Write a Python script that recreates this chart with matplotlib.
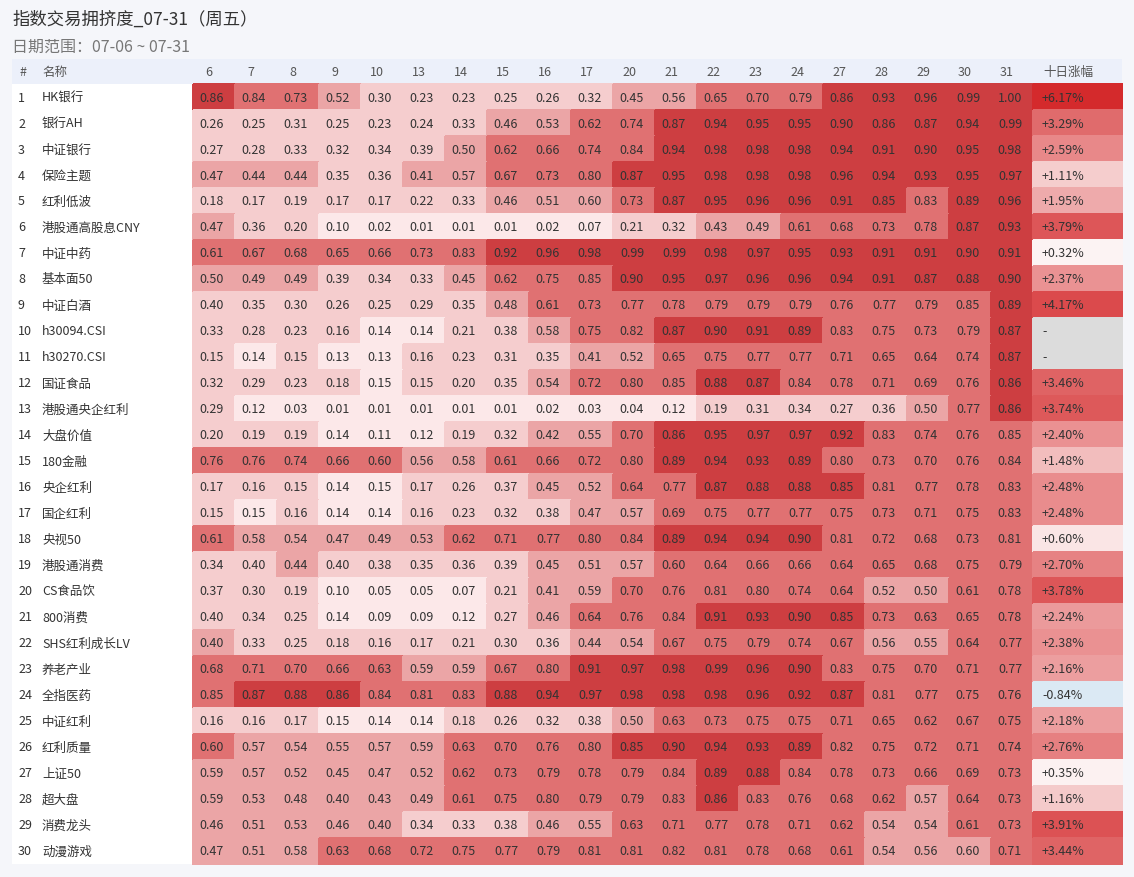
import numpy as np
import matplotlib
matplotlib.use('Agg')
import matplotlib.pyplot as plt
from matplotlib.colors import ListedColormap, BoundaryNorm, LinearSegmentedColormap, Normalize
from matplotlib.patches import Rectangle

plt.rcParams['font.family'] = ['Noto Sans CJK SC', 'DejaVu Sans']

# ---------------- data ----------------
title = '指数交易拥挤度_07-31（周五）'
subtitle = '日期范围：07-06 ~ 07-31'
col_hash = '#'
col_name = '名称'
col_change = '十日涨幅'

dates = ['6', '7', '8', '9', '10', '13', '14', '15', '16', '17',
         '20', '21', '22', '23', '24', '27', '28', '29', '30', '31']

names = ['HK银行', '银行AH', '中证银行', '保险主题', '红利低波', '港股通高股息CNY',
         '中证中药', '基本面50', '中证白酒', 'h30094.CSI', 'h30270.CSI', '国证食品',
         '港股通央企红利', '大盘价值', '180金融', '央企红利', '国企红利', '央视50',
         '港股通消费', 'CS食品饮', '800消费', 'SHS红利成长LV', '养老产业', '全指医药',
         '中证红利', '红利质量', '上证50', '超大盘', '消费龙头', '动漫游戏']

crowd = [
    [0.86, 0.84, 0.73, 0.52, 0.30, 0.23, 0.23, 0.25, 0.26, 0.32, 0.45, 0.56, 0.65, 0.70, 0.79, 0.86, 0.93, 0.96, 0.99, 1.00],
    [0.26, 0.25, 0.31, 0.25, 0.23, 0.24, 0.33, 0.46, 0.53, 0.62, 0.74, 0.87, 0.94, 0.95, 0.95, 0.90, 0.86, 0.87, 0.94, 0.99],
    [0.27, 0.28, 0.33, 0.32, 0.34, 0.39, 0.50, 0.62, 0.66, 0.74, 0.84, 0.94, 0.98, 0.98, 0.98, 0.94, 0.91, 0.90, 0.95, 0.98],
    [0.47, 0.44, 0.44, 0.35, 0.36, 0.41, 0.57, 0.67, 0.73, 0.80, 0.87, 0.95, 0.98, 0.98, 0.98, 0.96, 0.94, 0.93, 0.95, 0.97],
    [0.18, 0.17, 0.19, 0.17, 0.17, 0.22, 0.33, 0.46, 0.51, 0.598, 0.73, 0.87, 0.95, 0.96, 0.96, 0.91, 0.851, 0.83, 0.89, 0.96],
    [0.47, 0.36, 0.20, 0.10, 0.02, 0.01, 0.01, 0.01, 0.02, 0.07, 0.21, 0.32, 0.43, 0.49, 0.61, 0.68, 0.73, 0.78, 0.87, 0.93],
    [0.61, 0.67, 0.68, 0.65, 0.66, 0.73, 0.83, 0.92, 0.96, 0.98, 0.99, 0.99, 0.98, 0.97, 0.95, 0.93, 0.91, 0.91, 0.90, 0.91],
    [0.50, 0.49, 0.49, 0.39, 0.34, 0.33, 0.45, 0.62, 0.75, 0.849, 0.90, 0.95, 0.97, 0.96, 0.96, 0.94, 0.91, 0.87, 0.88, 0.90],
    [0.398, 0.35, 0.30, 0.26, 0.25, 0.29, 0.35, 0.48, 0.61, 0.73, 0.77, 0.78, 0.79, 0.79, 0.79, 0.76, 0.77, 0.79, 0.849, 0.89],
    [0.33, 0.28, 0.23, 0.16, 0.14, 0.14, 0.21, 0.38, 0.58, 0.75, 0.82, 0.87, 0.90, 0.91, 0.89, 0.83, 0.75, 0.73, 0.79, 0.87],
    [0.15, 0.14, 0.15, 0.13, 0.13, 0.16, 0.23, 0.31, 0.35, 0.41, 0.52, 0.65, 0.75, 0.77, 0.77, 0.71, 0.65, 0.64, 0.74, 0.87],
    [0.32, 0.29, 0.23, 0.18, 0.149, 0.15, 0.20, 0.35, 0.54, 0.72, 0.80, 0.849, 0.88, 0.87, 0.84, 0.78, 0.71, 0.69, 0.76, 0.86],
    [0.29, 0.12, 0.03, 0.01, 0.01, 0.01, 0.01, 0.01, 0.02, 0.03, 0.04, 0.12, 0.19, 0.31, 0.34, 0.27, 0.36, 0.50, 0.77, 0.86],
    [0.20, 0.19, 0.19, 0.14, 0.11, 0.12, 0.19, 0.32, 0.42, 0.55, 0.70, 0.86, 0.95, 0.97, 0.97, 0.92, 0.83, 0.74, 0.76, 0.849],
    [0.76, 0.76, 0.74, 0.66, 0.60, 0.56, 0.58, 0.61, 0.66, 0.72, 0.80, 0.89, 0.94, 0.93, 0.89, 0.80, 0.73, 0.70, 0.76, 0.84],
    [0.17, 0.16, 0.15, 0.14, 0.149, 0.17, 0.26, 0.37, 0.45, 0.52, 0.64, 0.77, 0.87, 0.88, 0.88, 0.851, 0.81, 0.77, 0.78, 0.83],
    [0.15, 0.149, 0.16, 0.14, 0.14, 0.16, 0.23, 0.32, 0.38, 0.47, 0.57, 0.69, 0.75, 0.77, 0.77, 0.75, 0.73, 0.71, 0.75, 0.83],
    [0.61, 0.58, 0.54, 0.47, 0.49, 0.53, 0.62, 0.71, 0.77, 0.80, 0.84, 0.89, 0.94, 0.94, 0.90, 0.81, 0.72, 0.68, 0.73, 0.81],
    [0.34, 0.398, 0.44, 0.398, 0.38, 0.35, 0.36, 0.39, 0.45, 0.51, 0.57, 0.60, 0.64, 0.66, 0.66, 0.64, 0.65, 0.68, 0.75, 0.79],
    [0.37, 0.30, 0.19, 0.10, 0.05, 0.05, 0.07, 0.21, 0.41, 0.59, 0.70, 0.76, 0.81, 0.80, 0.74, 0.64, 0.52, 0.50, 0.61, 0.78],
    [0.398, 0.34, 0.25, 0.14, 0.09, 0.09, 0.12, 0.27, 0.46, 0.64, 0.76, 0.84, 0.91, 0.93, 0.90, 0.851, 0.73, 0.63, 0.65, 0.78],
    [0.40, 0.33, 0.25, 0.18, 0.16, 0.17, 0.21, 0.30, 0.36, 0.44, 0.54, 0.67, 0.75, 0.79, 0.74, 0.67, 0.56, 0.55, 0.64, 0.77],
    [0.68, 0.71, 0.70, 0.66, 0.63, 0.59, 0.59, 0.67, 0.80, 0.91, 0.97, 0.98, 0.99, 0.96, 0.90, 0.83, 0.75, 0.70, 0.71, 0.77],
    [0.849, 0.87, 0.88, 0.86, 0.84, 0.81, 0.83, 0.88, 0.94, 0.97, 0.98, 0.98, 0.98, 0.96, 0.92, 0.87, 0.81, 0.77, 0.75, 0.76],
    [0.16, 0.16, 0.17, 0.149, 0.14, 0.14, 0.18, 0.26, 0.32, 0.38, 0.50, 0.63, 0.73, 0.75, 0.75, 0.71, 0.65, 0.62, 0.67, 0.75],
    [0.60, 0.57, 0.54, 0.55, 0.57, 0.59, 0.63, 0.70, 0.76, 0.80, 0.851, 0.90, 0.94, 0.93, 0.89, 0.82, 0.75, 0.72, 0.71, 0.74],
    [0.59, 0.57, 0.52, 0.45, 0.47, 0.52, 0.62, 0.73, 0.79, 0.78, 0.79, 0.84, 0.89, 0.88, 0.84, 0.78, 0.73, 0.66, 0.69, 0.73],
    [0.59, 0.53, 0.48, 0.40, 0.43, 0.49, 0.61, 0.75, 0.80, 0.79, 0.79, 0.83, 0.86, 0.83, 0.76, 0.68, 0.62, 0.57, 0.64, 0.73],
    [0.46, 0.51, 0.53, 0.46, 0.40, 0.34, 0.33, 0.38, 0.46, 0.55, 0.63, 0.71, 0.77, 0.78, 0.71, 0.62, 0.54, 0.54, 0.61, 0.73],
    [0.47, 0.51, 0.58, 0.63, 0.68, 0.72, 0.75, 0.77, 0.79, 0.81, 0.81, 0.82, 0.81, 0.78, 0.68, 0.61, 0.54, 0.56, 0.598, 0.71],
]

change = [6.17, 3.29, 2.59, 1.11, 1.95, 3.79, 0.32, 2.37, 4.17, np.nan,
          np.nan, 3.46, 3.74, 2.40, 1.48, 2.48, 2.48, 0.60, 2.70, 3.78,
          2.24, 2.38, 2.16, -0.84, 2.18, 2.76, 0.35, 1.16, 3.91, 3.44]

# ---------------- styling ----------------
crowd_bounds = [0.0, 0.15, 0.40, 0.60, 0.85, 1.01]
crowd_colors = ['#FCE8E9', '#F5CDCE', '#EBA5A6', '#E07172', '#CD3E41']

chg_nodes = [(-2.0, '#A9CBE6'), (0.0, '#FFFFFF'), (0.35, '#FCF1F1'), (1.1, '#F5CDCD'),
             (1.95, '#EEAAAB'), (2.45, '#E98D8E'), (3.3, '#E06A6B'), (3.8, '#DD5658'),
             (4.2, '#DB4A4C'), (6.17, '#D42A2C')]

W, H = 1134, 878
BG = '#F5F6FA'
TXT = '#333333'

fig = plt.figure(figsize=(W / 100, H / 100), dpi=100, facecolor=BG)
ax = fig.add_axes([0, 0, 1, 1])
ax.set_xlim(0, W)
ax.set_ylim(H, 0)
ax.axis('off')

left, right = 12, 1122
hdr_top, hdr_bot = 60, 85
row_h = 26
heat_x0, cell_w = 193, 42
n_rows, n_cols = len(names), len(dates)
heat_x1 = heat_x0 + cell_w * n_cols
body_bot = hdr_bot + row_h * n_rows

# title
ax.text(left, 20, title, fontsize=12.5, color='#333333', ha='left', va='center')
ax.text(left, 47, subtitle, fontsize=11.5, color='#777777', ha='left', va='center')

# header band and white body for label columns
ax.add_patch(Rectangle((left, hdr_top), right - left, hdr_bot - hdr_top,
                       facecolor='#ECF0FA', edgecolor='none', zorder=0))
ax.add_patch(Rectangle((left, hdr_bot), heat_x0 - left, body_bot - hdr_bot,
                       facecolor='white', edgecolor='none', zorder=0))

hdr_y = (hdr_top + hdr_bot) / 2
ax.text(19, hdr_y, col_hash, fontsize=9, color='#555555', ha='left', va='center')
ax.text(42, hdr_y, col_name, fontsize=9, color='#555555', ha='left', va='center')
for j, d in enumerate(dates):
    ax.text(heat_x0 + cell_w * (j + 0.5) - 5, hdr_y, d, fontsize=9,
            color='#555555', ha='center', va='center')
ax.text(heat_x1 + 10, hdr_y, col_change, fontsize=9, color='#555555',
        ha='left', va='center')

# heatmap
data = np.array(crowd)
xe = heat_x0 + cell_w * np.arange(n_cols + 1)
ye = hdr_bot + row_h * np.arange(n_rows + 1)
cmap = ListedColormap(crowd_colors)
norm = BoundaryNorm(crowd_bounds, cmap.N)
ax.pcolormesh(xe, ye, data, cmap=cmap, norm=norm, edgecolors='face',
              linewidth=0.3, zorder=1)

# change column
chg = np.array(change, dtype=float).reshape(-1, 1)
vmin, vmax = chg_nodes[0][0], chg_nodes[-1][0]
ccmap = LinearSegmentedColormap.from_list(
    'chg', [((v - vmin) / (vmax - vmin), c) for v, c in chg_nodes])
ccmap.set_bad('#DCDCDC')
ax.pcolormesh([heat_x1, right], ye, np.ma.masked_invalid(chg), cmap=ccmap,
              norm=Normalize(vmin=vmin, vmax=vmax), edgecolors='face',
              linewidth=0.3, zorder=1)

# row texts
for i, name in enumerate(names):
    yc = hdr_bot + row_h * (i + 0.5)
    ax.text(18, yc, str(i + 1), fontsize=9, color=TXT, ha='left', va='center', zorder=3)
    ax.text(42, yc, name, fontsize=9, color=TXT, ha='left', va='center', zorder=3)
    for j in range(n_cols):
        ax.text(heat_x0 + cell_w * (j + 0.5) - 2, yc, f'{data[i, j]:.2f}', fontsize=9,
                color=TXT, ha='center', va='center', zorder=3)
    v = change[i]
    lab = '-' if np.isnan(v) else f'{v:+.2f}%'
    ax.text(heat_x1 + 9, yc, lab, fontsize=9, color=TXT, ha='left', va='center', zorder=3)

fig.savefig('out.png', dpi=100, facecolor=BG)
